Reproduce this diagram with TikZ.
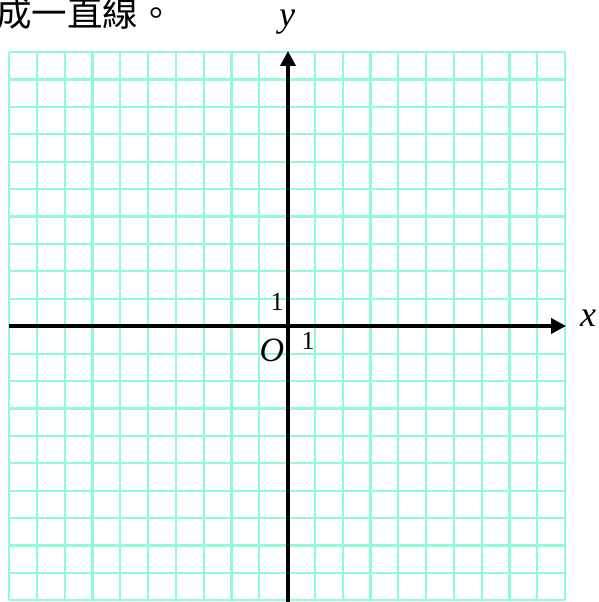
\documentclass[tikz,border=0pt]{standalone}
\usepackage{fontspec}
\setmainfont{Liberation Serif}
\newfontfamily\cjk{Noto Sans CJK TC}
\usetikzlibrary{arrows.meta}
\definecolor{gridcol}{RGB}{145,252,212}
\tikzset{
  gridline/.style={draw=gridcol,line width=2.2pt},
  axis/.style={line width=3.8pt,-{Triangle[length=15pt,width=15pt]}},
  biglabel/.style={inner sep=0pt,font=\fontsize{36}{40}\selectfont\itshape},
  numlabel/.style={inner sep=0pt,font=\fontsize{26}{30}\selectfont},
}
\begin{document}
\begin{tikzpicture}[x=1pt,y=1pt]
\useasboundingbox (0,0) rectangle (598,602);
% grid
\foreach \i in {0,...,20} {
  \draw[gridline] ({9+27.8*\i},1.6) -- ({9+27.8*\i},550);
  \draw[gridline] (9,{550-27.42*\i}) -- (565,{550-27.42*\i});
}
% axes
\coordinate (xl) at (9,276);
\coordinate (xr) at (566,276);
\coordinate (yb) at (288,0);
\coordinate (yt) at (288,551);
\draw[axis] (xl) -- (xr);
\draw[axis] (yb) -- (yt);
% labels
\node[biglabel] (ylab) at (287,580) {y};
\node[biglabel] (xlab) at (588,284) {x};
\node[biglabel,font=\fontsize{34}{38}\selectfont\itshape] (olab) at (272,252) {O};
\node[numlabel] (one1) at (277,300) {1};
\node[numlabel] (one2) at (308,261) {1};
\node[anchor=base west,inner sep=0pt,font=\cjk\fontsize{35.5}{40}\selectfont] (txt) at (-4,575) {成一直線。};
\end{tikzpicture}
\end{document}
